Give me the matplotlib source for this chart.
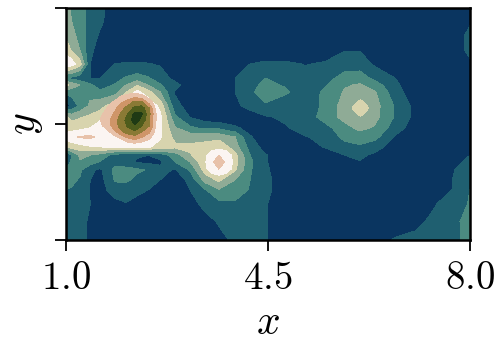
#filled contour map, contour bands are numbered 0..10
import numpy as np
import matplotlib
matplotlib.use('Agg')
import matplotlib.pyplot as plt
from matplotlib.colors import ListedColormap

plt.rcParams['mathtext.fontset'] = 'cm'
plt.rcParams['font.family'] = 'cmr10'
plt.rcParams['axes.formatter.use_mathtext'] = True

x_grid = [1.00, 1.10, 1.24, 1.42, 1.59, 1.85, 2.04, 2.23, 2.42, 2.63, 2.89, 3.15, 3.41, 3.65,
          3.93, 4.19, 4.45, 4.79, 5.14, 5.49, 5.83, 6.09, 6.35, 6.70, 7.05, 7.39, 7.74, 8.00]
y_grid = [1.000, 0.940, 0.879, 0.819, 0.759, 0.698, 0.668, 0.638, 0.578, 0.530, 0.483, 0.444,
          0.401, 0.366, 0.336, 0.302, 0.259, 0.216, 0.155, 0.078, 0.000]

z_rows = [
    [3.2, 2.9, 2.3, 1.7, 1.2, .6, .3, .2, .2, .2, .2, .2, .2, .2, .2, .2, .2, .2, .2, .2, .2, .2, .2, .2, .2, .2, .3, .5],
    [3.3, 3.0, 2.3, 1.7, 1.15, .5, .3, .2, .2, .2, .2, .2, .2, .2, .2, .2, .2, .2, .2, .2, .2, .2, .2, .2, .2, .2, .4, .9],
    [3.8, 3.4, 2.6, 1.5, .85, .4, .2, .2, .2, .2, .2, .2, .2, .2, .2, .2, .2, .2, .2, .2, .2, .2, .2, .2, .2, .2, .5, 1.3],
    [4.6, 3.9, 3.0, 1.2, .6, .3, .2, .2, .2, .2, .2, .2, .2, .2, .2, .2, .2, .2, .2, .5, .95, .95, .4, .2, .2, .2, .5, 1.3],
    [5.9, 5.5, 4.4, 1.0, .6, 1.0, 1.1, 1.1, 1.05, .9, .4, .2, .2, .2, .7, 1.0, 1.2, 1.2, .95, 1.1, 1.5, 1.5, .85, .4, .2, .2, .3, .8],
    [1.9, 1.7, 1.4, 1.0, 1.0, 1.6, 2.1, 2.4, 2.1, 1.5, .7, .3, .2, .2, 1.0, 1.5, 2.0, 1.5, 1.4, 1.6, 2.4, 2.5, 1.7, 1.0, .4, .2, .2, .2],
    [4.3, 3.6, 3.0, 2.2, 1.5, 2.1, 3.0, 3.9, 3.0, 2.1, 1.3, .4, .2, .2, 1.0, 1.6, 2.3, 1.9, 1.4, 1.9, 2.9, 3.1, 2.5, 1.2, .4, .2, .2, .2],
    [2.3, 2.4, 2.7, 2.7, 2.2, 2.6, 3.9, 5.3, 4.4, 3.0, .9, .3, .2, .2, 1.0, 1.7, 2.7, 2.2, 1.4, 2.2, 3.1, 3.8, 3.1, 1.4, .4, .2, .2, .2],
    [.4, 1.3, 2.2, 3.2, 3.7, 4.5, 5.9, 5.9, 5.9, 4.7, 1.3, .6, .2, .2, .8, 1.3, 1.8, 1.3, 1.2, 2.3, 3.4, 3.9, 3.4, 1.9, .7, .2, .2, .2],
    [4.2, 3.6, 3.9, 4.2, 4.5, 5.9, 5.9, 5.9, 5.9, 5.3, 2.2, .95, .4, .2, .2, .5, .9, 1.15, 1.3, 2.5, 3.3, 3.9, 3.3, 1.9, .7, .2, .2, .2],
    [4.6, 4.6, 4.7, 5.0, 5.9, 5.9, 5.9, 5.9, 5.9, 5.2, 3.1, 2.2, 1.8, 1.8, 1.2, .6, .3, .9, 1.3, 1.6, 2.7, 3.2, 2.9, 1.5, .5, .2, .2, .2],
    [5.4, 5.7, 6.1, 6.2, 5.7, 5.9, 5.9, 5.9, 5.9, 5.1, 3.7, 3.6, 3.6, 3.6, 3.0, 1.1, .4, .4, .95, 1.2, 2.3, 2.6, 2.3, .9, .3, .2, .2, .4],
    [4.0, 4.4, 4.6, 4.9, 5.0, 5.1, 5.2, 5.2, 5.1, 4.7, 4.2, 4.2, 4.4, 4.9, 3.4, 1.6, .6, .2, .3, 1.1, 1.6, 1.8, 1.4, .5, .2, .2, .2, .7],
    [.5, 2.0, 3.2, 3.0, 2.6, 1.6, 1.3, 1.1, 1.0, 1.4, 2.5, 3.9, 4.8, 4.9, 4.3, 2.0, 1.1, .3, .2, .2, 1.0, 1.2, .8, .2, .2, .2, .5, 1.0],
    [1.2, 2.2, 2.9, 2.4, 1.9, 1.6, 1.3, .9, .8, .8, 2.0, 3.0, 4.8, 4.9, 4.4, 2.2, 1.1, .3, .2, .2, .7, .95, .5, .2, .2, .2, .7, 1.3],
    [2.3, 2.5, 2.2, 1.2, .8, 2.3, 2.4, 2.2, 1.9, 1.3, .9, 2.1, 4.4, 4.9, 4.1, 2.1, 1.2, .3, .2, .2, .2, .2, .2, .2, .2, .2, 1.0, 1.5],
    [2.3, 2.2, 1.9, 1.0, .6, 2.1, 2.2, 1.7, 1.2, 1.0, .4, 1.3, 3.4, 4.2, 3.0, 2.0, 1.3, .4, .2, .2, .2, .2, .2, .2, .2, .3, 1.1, 1.7],
    [2.0, 1.9, 1.5, .95, .5, 1.6, 1.4, 1.3, 1.0, .5, .3, 1.0, 1.9, 2.9, 2.6, 1.9, 1.3, .4, .2, .2, .2, .2, .2, .2, .2, .4, 1.1, 2.0],
    [1.95, 1.6, 1.3, 1.0, .4, .6, .95, .6, .3, .2, .2, .6, 1.3, 1.7, 1.8, 1.6, 1.1, .3, .2, .2, .2, .2, .2, .2, .4, .95, 1.5, 2.1],
    [1.5, 1.4, 1.2, .9, .3, .2, .2, .2, .2, .2, .2, .2, .6, 1.1, 1.5, 1.5, 1.1, .3, .2, .2, .2, .2, .2, .4, .8, 1.2, 1.8, 2.4],
    [1.5, 1.4, 1.2, .9, .3, .2, .2, .2, .2, .2, .2, .2, .2, .7, 1.2, 1.4, 1.1, .4, .2, .2, .2, .2, .5, 1.1, 1.2, 1.4, 1.8, 2.3],
]

#finer readings around the three peaks, only the inner bands are drawn from these
peak1_x = [1.59, 1.71, 1.83, 1.95, 2.07, 2.19, 2.31, 2.44, 2.56, 2.68]
peak1_y = [0.647, 0.621, 0.595, 0.569, 0.543, 0.517, 0.491, 0.466, 0.440, 0.414]
peak1_z = [
    [4.0, 4.0, 4.5, 5.0, 5.2, 5.4, 5.2, 5.0, 4.5, 4.0],
    [5.0, 5.0, 5.3, 5.95, 6.3, 6.5, 6.2, 5.6, 5.0, 4.5],
    [5.4, 5.6, 6.1, 6.8, 7.4, 8.2, 8.1, 6.5, 5.5, 4.5],
    [5.6, 6.0, 6.6, 7.5, 8.4, 9.2, 9.5, 8.0, 5.6, 4.5],
    [5.8, 6.3, 7.1, 8.1, 9.0, 10.3, 10.1, 8.3, 6.0, 4.5],
    [6.0, 6.6, 7.5, 8.4, 9.4, 10.5, 9.7, 8.2, 6.0, 4.5],
    [5.7, 6.4, 7.4, 8.4, 9.1, 9.8, 9.0, 8.0, 5.9, 4.5],
    [5.3, 5.6, 6.6, 7.7, 8.5, 8.8, 8.0, 7.2, 5.6, 4.5],
    [5.0, 5.2, 5.5, 6.1, 7.0, 7.4, 6.9, 6.2, 5.3, 4.5],
    [5.0, 5.0, 5.2, 5.4, 5.6, 5.8, 5.6, 5.4, 5.0, 4.5],
]
peak2_x = [3.31, 3.41, 3.53, 3.65, 3.77, 3.90, 4.00]
peak2_y = [0.418, 0.392, 0.366, 0.336, 0.306, 0.280, 0.254]
peak2_z = [
    [3.0, 3.5, 4.0, 4.2, 4.0, 3.5, 3.0],
    [3.5, 4.2, 4.8, 5.0, 4.8, 4.2, 3.5],
    [4.0, 4.8, 5.5, 6.0, 5.5, 4.8, 4.0],
    [4.2, 4.9, 5.8, 6.7, 5.8, 4.9, 4.2],
    [4.0, 4.8, 5.5, 6.0, 5.5, 4.8, 4.0],
    [3.5, 4.2, 4.8, 5.0, 4.8, 4.2, 3.5],
    [3.0, 3.5, 4.0, 4.2, 4.0, 3.5, 3.0],
]
peak3_x = [5.86, 5.98, 6.10, 6.22, 6.34]
peak3_y = [0.629, 0.599, 0.569, 0.539, 0.509]
peak3_z = [
    [3.2, 3.4, 3.5, 3.4, 3.2],
    [3.4, 3.8, 4.1, 3.8, 3.4],
    [3.5, 4.1, 4.8, 4.1, 3.5],
    [3.4, 3.8, 4.1, 3.8, 3.4],
    [3.2, 3.4, 3.5, 3.4, 3.2],
]

band_colors = ['#0a3560', '#1f5f70', '#4b8b80', '#8fab96', '#d8d4ae', '#fbf5f2',
               '#e8c2aa', '#cf9568', '#8a7a35', '#4e5c1c', '#1f3a14']
levels = np.arange(0, 12)

fig = plt.figure(figsize=(4.99, 3.39), dpi=100)
ax = fig.add_axes([66/499, 99/339, 404/499, 232/339])
ax.contourf(x_grid, y_grid, np.array(z_rows), levels=levels, cmap=ListedColormap(band_colors))
#draw each peak over the base, values below its first level stay transparent
ax.contourf(peak1_x, peak1_y, np.array(peak1_z), levels=levels[6:], cmap=ListedColormap(band_colors[6:]))
ax.contourf(peak2_x, peak2_y, np.array(peak2_z), levels=levels[5:8], cmap=ListedColormap(band_colors[5:7]))
ax.contourf(peak3_x, peak3_y, np.array(peak3_z), levels=levels[4:6], cmap=ListedColormap(band_colors[4:5]))

ax.set_xlim(1, 8)
ax.set_ylim(0, 1)
ax.set_xticks([1.0, 4.5, 8.0])
ax.set_xticklabels(['$1.0$', '$4.5$', '$8.0$'], fontsize=28)
ax.set_yticks([0, 0.5, 1])
ax.set_yticklabels([])
ax.tick_params(length=8, width=1.3, pad=7)
for s in ax.spines.values():
    s.set_linewidth(1.8)
ax.set_xlabel('$x$', fontsize=30, labelpad=6)
ax.set_ylabel('$y$', fontsize=30, labelpad=0)

plt.savefig('out.png', dpi=100)
